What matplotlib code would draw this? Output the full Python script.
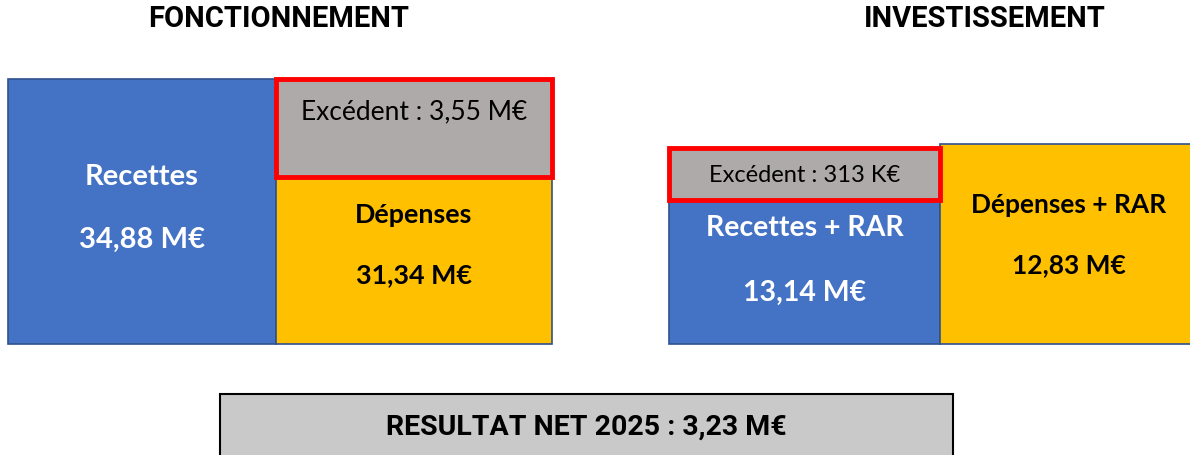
"""Bilan 2025 : fonctionnement / investissement en blocs schématiques.
Saves: out.png
"""
import matplotlib.pyplot as plt

# --- données ---
sections = ['FONCTIONNEMENT', 'INVESTISSEMENT']
recettes_labels = ['Recettes', 'Recettes + RAR']
recettes = [34.88, 13.14]          # M€
depenses_labels = ['Dépenses', 'Dépenses + RAR']
depenses = [31.34, 12.83]          # M€
excedents = ['3,55 M€', '313 K€']
resultat_annee = 2025
resultat_net = 3.23                # M€

BLUE, YELLOW, GREY, RED = '#4472C4', '#FFC000', '#AEAAAA', '#FF0000'
EDGE_BLUE = '#2F528F'
TITLE_FONT = ['Roboto', 'DejaVu Sans']
BOX_FONT = ['Lato', 'DejaVu Sans']


def fr(v):
    return f'{v:.2f}'.replace('.', ',') + ' M€'


# --- mise en page (pixels de l'image, y vers le bas) ---
# recettes: (x0, x1, top), dépenses: (x0, x1, top), excédent: (top, bottom)
layout = [
    dict(rec=(8, 276, 80), dep=(276, 552, 80), exc=(80, 178), ex_side='dep',
         title_x=279, rec_y=(177, 240), dep_y=(215, 275), exc_fs=19,
         rec_fs=21, dep_fs=19.4, dep_x=414),
    dict(rec=(669, 940, 149), dep=(940, 1195, 145), exc=(149, 201), ex_side='rec',
         title_x=985, rec_y=(228, 293), dep_y=(205, 265), exc_fs=17,
         rec_fs=20.5, dep_fs=19, dep_x=1069),
]
BASE = 345

fig = plt.figure(figsize=(11.9, 4.56), dpi=100)
ax = fig.add_axes([0, 0, 1, 1])
ax.set_xlim(0, 1190)
ax.set_ylim(456, 0)
ax.axis('off')

for i, L in enumerate(layout):
    ax.text(L['title_x'], 19, sections[i], ha='center', va='center',
            fontsize=21, fontweight='bold', family=TITLE_FONT)
    rx0, rx1, rtop = L['rec']
    dx0, dx1, dtop = L['dep']
    etop, ebot = L['exc']
    # blocs recettes / dépenses
    ax.bar((rx0 + rx1) / 2, BASE - rtop, width=rx1 - rx0, bottom=rtop,
           color=BLUE, edgecolor=EDGE_BLUE, linewidth=1.2, zorder=1)
    ax.bar((dx0 + dx1) / 2, BASE - dtop, width=dx1 - dx0, bottom=dtop,
           color=YELLOW, edgecolor=EDGE_BLUE, linewidth=1.2, zorder=1)
    # excédent encadré rouge
    sx0, sx1 = (dx0, dx1) if L['ex_side'] == 'dep' else (rx0, rx1)
    ax.bar((sx0 + sx1) / 2, ebot - etop, width=sx1 - sx0, bottom=etop,
           color=GREY, edgecolor=RED, linewidth=3.5, zorder=3)
    ey = etop + 32 if L['ex_side'] == 'dep' else (etop + ebot) / 2 + 1
    ax.text((sx0 + sx1) / 2, ey, f'Excédent : {excedents[i]}', ha='center',
            va='center', fontsize=L['exc_fs'], family=BOX_FONT, zorder=4)
    # libellés
    rc = (rx0 + rx1) / 2
    for lab, y in zip([recettes_labels[i], fr(recettes[i])], L['rec_y']):
        ax.text(rc, y, lab, ha='center', va='center', color='white',
                fontsize=L['rec_fs'], fontweight='bold', family=BOX_FONT)
    for lab, y in zip([depenses_labels[i], fr(depenses[i])], L['dep_y']):
        ax.text(L['dep_x'], y, lab, ha='center', va='center',
                fontsize=L['dep_fs'], fontweight='bold', family=BOX_FONT)

# résultat net
ax.bar(586, 70, width=733, bottom=395, color='#C9C9C9', edgecolor='black',
       linewidth=1.5)
ax.text(586, 427, f'RESULTAT NET {resultat_annee} : {fr(resultat_net)}',
        ha='center', va='center', fontsize=20.5, fontweight='bold',
        family=TITLE_FONT)

fig.savefig('out.png', dpi=100)
plt.close(fig)
